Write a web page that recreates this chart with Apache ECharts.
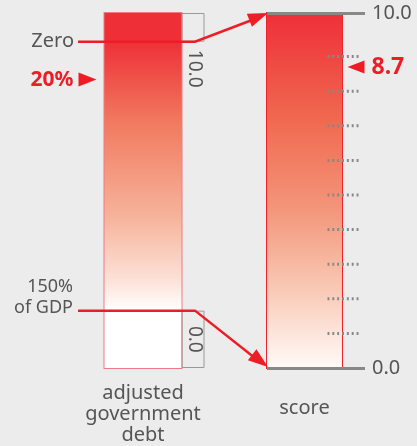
<!DOCTYPE html>
<html><head><meta charset="utf-8">
<script src="https://cdn.jsdelivr.net/npm/echarts@6/dist/echarts.min.js"></script>
<style>html,body{margin:0;padding:0;background:#ececec}#c{width:417px;height:446px}</style>
</head><body><div id="c"></div>
<script>
// ---- data ----
const debtCategory = ['adjusted\ngovernment\ndebt'];
const scoreCategory = ['score'];
// debt scale (% of GDP): top edge of bar, "Zero", "150% of GDP", bottom edge of bar
const debtBounds = [-16, 0, 150, 182];
const debtLabels = ['Zero', '150%\nof GDP'];
const debtBoxLabels = ['10.0', '0.0'];
const debtMarker = [20];
const debtMarkerLabel = ['20%'];
// score scale
const scoreBounds = [0, 10.26];
const scoreEndLabels = ['0.0', '10.0'];
const scoreTicks = [1, 2, 3, 4, 5, 6, 7, 8, 9];
const scoreMarker = [8.7];
const scoreMarkerLabel = ['8.7'];

// ---- styles ----
const FONT = 'Noto Sans';
const RED = '#ee1c25';
const GREY_TXT = '#555';
const grad = (stops) => new echarts.graphic.LinearGradient(0, 0, 0, 1,
  stops.map(([o, c]) => ({offset: o, color: c})));

const chart = echarts.init(document.getElementById('c'), null, {renderer: 'canvas'});

const segTop = debtBounds[0] - debtBounds[1];
const segMid = debtBounds[2] - debtBounds[1];
const segBot = debtBounds[3] - debtBounds[2];

const dotPath = 'path://M0 0h2v2h-2zM5 0h2v2h-2zM10 0h2v2h-2zM15 0h2v2h-2zM20 0h2v2h-2zM25 0h2v2h-2zM30 0h2v2h-2z';

chart.setOption({
  backgroundColor: '#ececec',
  animation: false,
  grid: [
    {left: 104, top: 13, width: 101, height: 355},
    {left: 267, top: 13, width: 98, height: 355}
  ],
  xAxis: [
    {type: 'category', gridIndex: 0, data: debtCategory, axisLine: {show: false}, axisTick: {show: false}, splitLine: {show: false},
     axisLabel: {margin: 15, padding: [0, 23, 0, 0], fontFamily: FONT, fontSize: 20, lineHeight: 21, color: GREY_TXT}},
    {type: 'category', gridIndex: 1, data: scoreCategory, axisLine: {show: false}, axisTick: {show: false}, splitLine: {show: false},
     axisLabel: {margin: 30, padding: [0, 23, 0, 0], fontFamily: FONT, fontSize: 20, color: GREY_TXT}}
  ],
  yAxis: [
    {type: 'value', gridIndex: 0, inverse: true, min: debtBounds[0], max: debtBounds[3], show: false},
    {type: 'value', gridIndex: 1, min: scoreBounds[0], max: scoreBounds[1], show: false}
  ],
  series: [
    // left bar (frame drawn by the bar background)
    {type: 'bar', xAxisIndex: 0, yAxisIndex: 0, stack: 'debt', barWidth: 77, barGap: 0, z: 2,
     showBackground: true, backgroundStyle: {color: 'rgba(0,0,0,0)', borderColor: '#f07a84', borderWidth: 2},
     data: [segTop], itemStyle: {color: '#ee2f38', borderWidth: 0}},
    {type: 'bar', xAxisIndex: 0, yAxisIndex: 0, stack: 'debt', barWidth: 77, barGap: 0, z: 2,
     data: [segMid], itemStyle: {color: grad([[0, '#ee3038'], [0.3, '#f17a5f'], [0.65, '#f6b39b'], [0.88, '#fce0d5'], [1, '#ffffff']]),
       borderWidth: 0}},
    {type: 'bar', xAxisIndex: 0, yAxisIndex: 0, stack: 'debt', barWidth: 77, barGap: 0, z: 2,
     data: [segBot], itemStyle: {color: '#ffffff', borderWidth: 0}},
    // boxes to the right of left bar
    {type: 'bar', xAxisIndex: 0, yAxisIndex: 0, stack: 'box', barWidth: 23, barGap: 0, z: 2,
     data: [segTop], itemStyle: {color: 'rgba(0,0,0,0)', borderColor: '#999', borderWidth: 1}},
    {type: 'bar', xAxisIndex: 0, yAxisIndex: 0, stack: 'box', barWidth: 23, barGap: 0, z: 2,
     data: [segMid], itemStyle: {color: 'rgba(0,0,0,0)', borderWidth: 0}},
    {type: 'bar', xAxisIndex: 0, yAxisIndex: 0, stack: 'box', barWidth: 23, barGap: 0, z: 2,
     data: [segBot], itemStyle: {color: 'rgba(0,0,0,0)', borderColor: '#999', borderWidth: 1}},
    // debt marker
    {type: 'scatter', xAxisIndex: 0, yAxisIndex: 0, z: 5, data: [[0, debtMarker[0]]],
     symbol: 'triangle', symbolSize: [14, 18], symbolRotate: -90, symbolOffset: [-67, 2],
     itemStyle: {color: RED, opacity: 1},
     label: {show: true, position: 'left', distance: 5, formatter: debtMarkerLabel[0],
       fontFamily: FONT, fontWeight: 'bold', fontSize: 21, color: RED, opacity: 1}},
    // right bar (frame drawn by the bar background)
    {type: 'bar', xAxisIndex: 1, yAxisIndex: 1, barWidth: 75, barGap: 0, z: 2,
     showBackground: true, backgroundStyle: {color: 'rgba(0,0,0,0)', borderColor: '#f0232c', borderWidth: 2},
     data: [scoreBounds[1]],
     itemStyle: {color: grad([[0, '#ee2f39'], [0.3, '#f0694f'], [0.55, '#f3957a'], [0.75, '#f8c3ad'], [1, '#fffaf8']]),
       borderWidth: 0}},
    {type: 'bar', xAxisIndex: 1, yAxisIndex: 1, barWidth: 23, barGap: 0, z: 3,
     data: ['-'],
     markLine: {silent: true, symbol: 'none', z: 4,
       lineStyle: {color: '#888', width: 3, type: 'solid'},
       label: {show: true, position: 'end', distance: 7, fontFamily: FONT, fontSize: 20, color: GREY_TXT,
         formatter: (p) => p.value === scoreBounds[0] ? scoreEndLabels[0] : scoreEndLabels[1]},
       data: [{yAxis: scoreBounds[0]}, {yAxis: scoreBounds[1]}]}},
    // dotted ticks
    {type: 'scatter', xAxisIndex: 1, yAxisIndex: 1, z: 5,
     data: scoreTicks.map(v => [0, v]), symbol: dotPath, symbolSize: [31, 3], symbolOffset: [27, 0],
     itemStyle: {color: '#888', opacity: 1}},
    // score marker
    {type: 'scatter', xAxisIndex: 1, yAxisIndex: 1, z: 5, data: [[0, scoreMarker[0]]],
     symbol: 'triangle', symbolSize: [13, 17], symbolRotate: 90, symbolOffset: [40, 0],
     itemStyle: {color: RED, opacity: 1},
     label: {show: true, position: 'right', distance: 7, formatter: scoreMarkerLabel[0],
       fontFamily: FONT, fontWeight: 'bold', fontSize: 23, color: RED, opacity: 1}}
  ]
});

// ---- connectors & annotation texts, positioned through the axes ----
const yD = v => chart.convertToPixel({yAxisIndex: 0}, v);
const yS = v => chart.convertToPixel({yAxisIndex: 1}, v);
const xStart = 78, xBend = 195, xTip = 268;
function arrow(x1, y1, x2, y2) {
  const dx = x2 - x1, dy = y2 - y1, L = Math.hypot(dx, dy);
  const ux = dx / L, uy = dy / L, nx = -uy, ny = ux;
  const len = 20, hw = 7;
  const bx = x2 - ux * len, by = y2 - uy * len;
  return {type: 'polygon', z: 10, shape: {points: [[x2, y2], [bx + nx * hw, by + ny * hw], [bx - nx * hw, by - ny * hw]]},
    style: {fill: RED}};
}
const yZero = yD(debtBounds[1]), yCap = yD(debtBounds[2]);
const yTop = yS(scoreBounds[1]), yBot = yS(scoreBounds[0]);
const graphics = [
  {type: 'polyline', z: 9, shape: {points: [[xStart, yZero], [xBend, yZero], [xTip - 8, yTop + 4]]},
   style: {stroke: RED, lineWidth: 2.5, fill: null}},
  arrow(xBend, yZero, xTip, yTop),
  {type: 'polyline', z: 9, shape: {points: [[xStart, yCap], [xBend, yCap], [xTip - 8, yBot - 6]]},
   style: {stroke: RED, lineWidth: 2.5, fill: null}},
  arrow(xBend, yCap, xTip, yBot - 1),
  {type: 'text', z: 10, x: 74, y: yZero,
   style: {text: debtLabels[0], font: '20px "Noto Sans"', fill: GREY_TXT, align: 'right', verticalAlign: 'middle'}},
  {type: 'text', z: 10, x: 73, y: yCap - 13,
   style: {text: debtLabels[1], font: '18px "Noto Sans"', lineHeight: 21, fill: GREY_TXT, align: 'right', verticalAlign: 'middle'}},
  {type: 'text', z: 10, x: 194, y: yZero + 27, rotation: -Math.PI / 2,
   style: {text: debtBoxLabels[0], font: '19px "Noto Sans"', fill: GREY_TXT, align: 'center', verticalAlign: 'middle'}},
  {type: 'text', z: 10, x: 194, y: (yCap + yD(debtBounds[3])) / 2, rotation: -Math.PI / 2,
   style: {text: debtBoxLabels[1], font: '19px "Noto Sans"', fill: GREY_TXT, align: 'center', verticalAlign: 'middle'}}
];
chart.setOption({graphic: graphics});
</script>
</body></html>
